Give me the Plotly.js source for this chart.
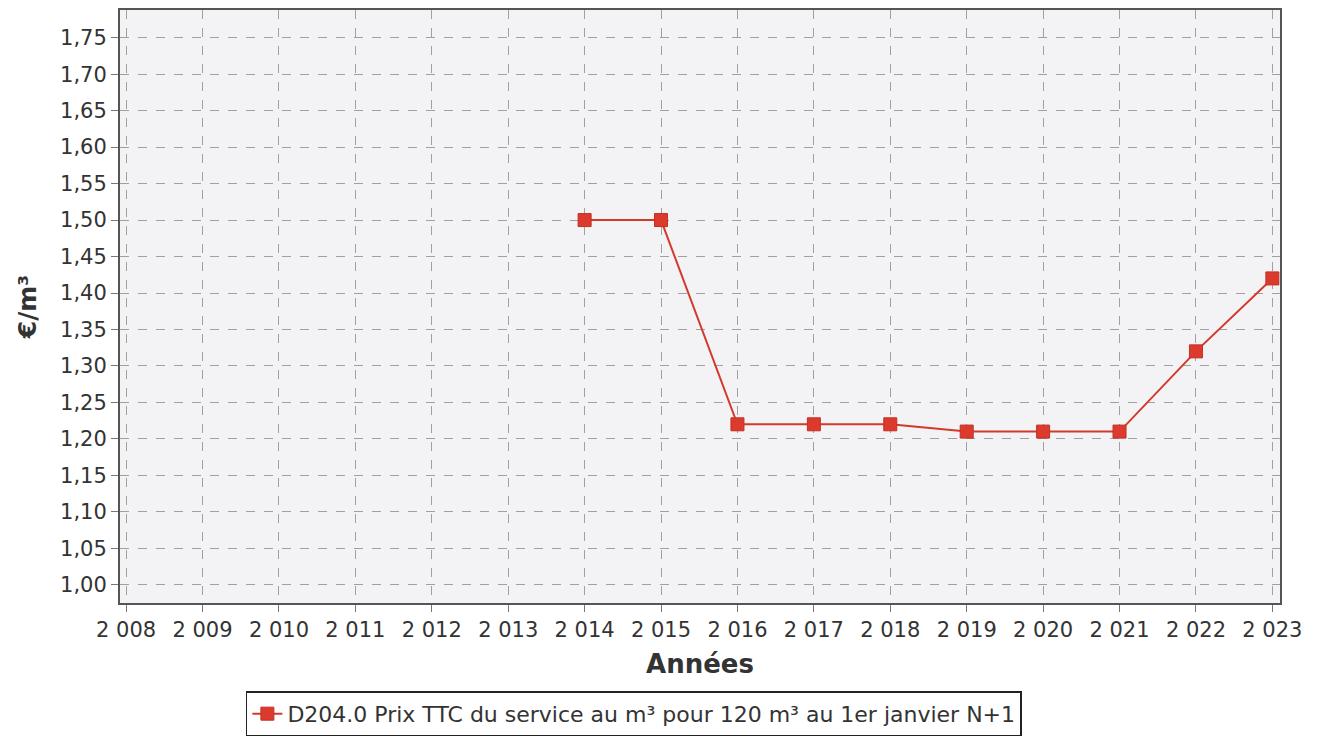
<!DOCTYPE html>
<html>
<head>
<meta charset="utf-8">
<script src="https://cdn.plot.ly/plotly-3.0.1.min.js"></script>
<style>html,body{margin:0;padding:0;background:#fff;}#chart{width:1324px;height:737px;}</style>
</head>
<body>
<div id="chart"></div>
<script>
const years = [2014, 2015, 2016, 2017, 2018, 2019, 2020, 2021, 2022, 2023];
const prices = [1.50, 1.50, 1.22, 1.22, 1.22, 1.21, 1.21, 1.21, 1.32, 1.42];
const xTickVals = [2008, 2009, 2010, 2011, 2012, 2013, 2014, 2015, 2016, 2017, 2018, 2019, 2020, 2021, 2022, 2023];
const yTickVals = [1.00, 1.05, 1.10, 1.15, 1.20, 1.25, 1.30, 1.35, 1.40, 1.45, 1.50, 1.55, 1.60, 1.65, 1.70, 1.75];
const seriesName = "D204.0 Prix TTC du service au m³ pour 120 m³ au 1er janvier N+1";

const trace = {
  x: years, y: prices, name: seriesName,
  type: 'scatter', mode: 'lines+markers',
  line: {color: '#d23a2c', width: 2},
  marker: {symbol: 'square', size: 13, color: '#dc3a2c', line: {color: '#c23024', width: 1}}
};

const layout = {
  width: 1324, height: 737,
  separators: ', ',
  paper_bgcolor: '#ffffff', plot_bgcolor: '#f3f3f6',
  margin: {l: 120, r: 44, t: 10, b: 134, autoexpand: false},
  font: {family: 'DejaVu Sans, sans-serif', color: '#333333', size: 21},
  showlegend: true,
  xaxis: {
    automargin: false,
    range: [2007.92, 2023.1],
    tickvals: xTickVals, tickformat: ',d',
    showgrid: true, gridcolor: '#a0a0a0', griddash: 'dash', gridwidth: 1,
    showline: true, linecolor: '#555555', linewidth: 2, mirror: true,
    ticks: 'outside', ticklen: 7, tickcolor: '#777777',
    zeroline: false,
    tickfont: {size: 21, color: '#333333'},
    title: {text: 'Années', font: {size: 26, color: '#333333', family: 'DejaVu Sans, sans-serif', weight: 'bold'}, standoff: 14}
  },
  yaxis: {
    automargin: false,
    range: [0.975, 1.788],
    tickvals: yTickVals, tickformat: '.2f',
    showgrid: true, gridcolor: '#a0a0a0', griddash: 'dash', gridwidth: 1,
    showline: true, linecolor: '#555555', linewidth: 2, mirror: true,
    ticks: 'outside', ticklen: 7, tickcolor: '#777777',
    zeroline: false,
    tickfont: {size: 21, color: '#333333'},
    title: {text: '€/m³', font: {size: 25, color: '#333333', family: 'DejaVu Sans, sans-serif', weight: 'bold'}, standoff: 16}
  },
  legend: {
    orientation: 'h', x: 0.443, xanchor: 'center', y: -0.149, yanchor: 'top',
    bgcolor: '#ffffff', bordercolor: '#222222', borderwidth: 1.5,
    font: {size: 22, color: '#333333'}
  }
};

Plotly.newPlot('chart', [trace], layout, {displayModeBar: false});
</script>
</body>
</html>
